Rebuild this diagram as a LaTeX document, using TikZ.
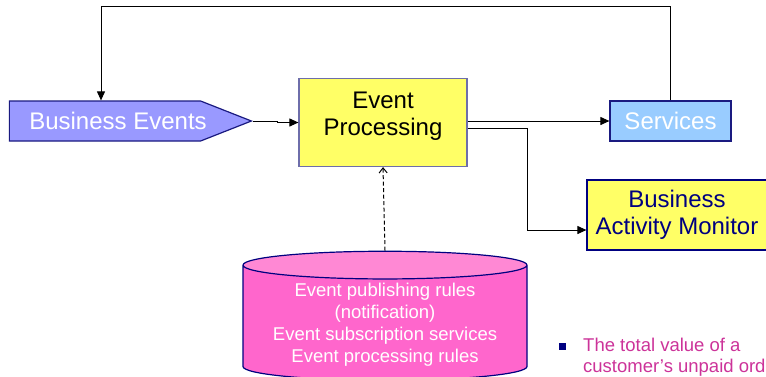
\documentclass[tikz,border=0pt]{standalone}
\usepackage{fontspec}
\setmainfont{Liberation Sans}
\usetikzlibrary{shapes.symbols,shapes.geometric,arrows.meta,calc}

\definecolor{evtblue}{RGB}{153,153,255}
\definecolor{evtborder}{RGB}{26,26,128}
\definecolor{procyellow}{RGB}{255,255,102}
\definecolor{procborder}{RGB}{110,110,170}
\definecolor{srvblue}{RGB}{153,204,255}
\definecolor{navy}{RGB}{0,0,128}
\definecolor{rulepink}{RGB}{255,102,204}
\definecolor{rulepinktop}{RGB}{255,136,212}
\definecolor{notepink}{RGB}{204,51,153}

\tikzset{
  bigtxt/.style={font=\fontsize{24}{27.5}\selectfont, align=center},
  smalltxt/.style={font=\fontsize{18.5}{22}\selectfont, align=center},
  flow/.style={line width=1pt, -{Triangle[length=9pt,width=8pt]}},
}

\begin{document}
\begin{tikzpicture}[x=1pt,y=1pt,yscale=-1,xscale=1]
\useasboundingbox (0,0) rectangle (766,376);

% boxes
\node (bevt) [signal, signal to=east, signal pointer angle=43, draw=evtborder, line width=1.2pt, fill=evtblue, minimum width=242pt, minimum height=40pt, inner sep=0pt, label={[bigtxt, text=white, xshift=13pt]center:Business Events}] at (105,121) {};
\node (ep) [draw=procborder, line width=1.2pt, fill=procyellow, minimum width=168pt, minimum height=88pt, label={[bigtxt, yshift=6.5pt]center:Event\\Processing}] at (383,122.5) {};
\node (srv) [draw=evtborder, line width=1.2pt, fill=srvblue, minimum width=121pt, minimum height=40pt, bigtxt, text=white] at (670.5,121) {Services};
\node (bam) [draw=navy, line width=1.2pt, fill=procyellow, minimum width=180pt, minimum height=70pt, bigtxt, text=navy] at (677,215) {Business\\Activity Monitor};
\node (rules) [cylinder, shape border rotate=90, aspect=0.12, draw=navy, line width=1.2pt, cylinder uses custom fill, cylinder body fill=rulepink, cylinder end fill=rulepinktop, minimum width=284pt, minimum height=121pt, smalltxt, text=white] at (385,324.5) {Event publishing rules\\(notification)\\Event subscription services\\Event processing rules};

% note
\node (bullet) [fill=navy, minimum size=7pt, inner sep=0pt] at (562,346) {};
\node (note) [anchor=north west, inner sep=0pt, align=left, text=notepink, font=\fontsize{18.5}{21}\selectfont] at (583,338) {The total value of a\\customer's unpaid ord};

% connectors
\draw[flow] (bevt.east) -- ++(24,0) |- (ep.west);
\draw[flow] (ep.east |- srv.west) -- (srv.west);
\draw[flow] ($(ep.east)+(0,6)$) -- ++(60,0) |- ($(bam.west)+(0,15)$);
\draw[flow] (srv.north) -- ++(0,-94) -| ($(bevt.north)+(-4,0)$);
\draw[line width=1pt, dash pattern=on 4pt off 2.5pt, -{Straight Barb[length=5pt,width=8pt]}] (rules.north) -- (ep.south);

\end{tikzpicture}
\end{document}
